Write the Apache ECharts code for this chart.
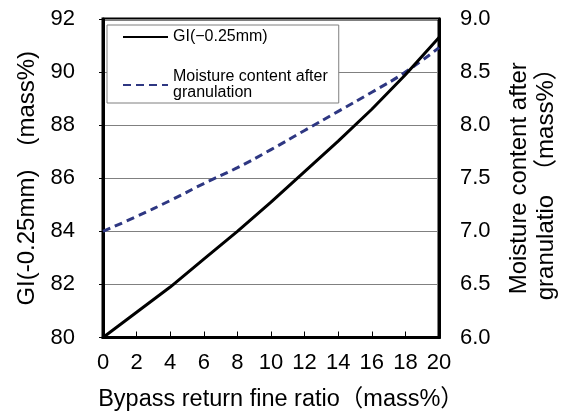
<!DOCTYPE html>
<html>
<head>
<meta charset="utf-8">
<script src="https://cdn.jsdelivr.net/npm/echarts@6/dist/echarts.min.js"></script>
<style>html,body{margin:0;padding:0;background:#fff;}#chart{width:569px;height:416px;}</style>
</head>
<body>
<div id="chart"></div>
<script>
var xCategories = [0, 2, 4, 6, 8, 10, 12, 14, 16, 18, 20];
var giValues = [80.0, 80.95, 81.9, 82.95, 84.0, 85.1, 86.25, 87.4, 88.6, 89.9, 91.3];
var moistureValues = [7.0, 7.14, 7.29, 7.45, 7.6, 7.77, 7.95, 8.13, 8.31, 8.5, 8.73];
var giName = 'GI(\u22120.25mm)';
var moistureName = 'Moisture content after\ngranulation';
var xTitle = 'Bypass return fine ratio\uff08mass%\uff09';
var leftTitle = 'GI(-0.25mm)\u3000(mass%)';
var rightTitle = 'Moisture content after\ngranulatio\u3000\uff08mass%\uff09';

var FONT = '"Liberation Sans", Arial, "Noto Sans CJK JP", sans-serif';
var chart = echarts.init(document.getElementById('chart'), null, {renderer: 'canvas'});
var option = {
  animation: false,
  backgroundColor: '#fff',
  textStyle: {fontFamily: FONT},
  grid: {left: 103, right: 130, top: 19, bottom: 76, show: true, borderColor: '#000', borderWidth: 3},
  legend: {
    left: 107, top: 25, orient: 'vertical',
    backgroundColor: '#fff', borderColor: '#7f7f7f', borderWidth: 1,
    padding: [4, 11, 2, 15], itemGap: 24,
    itemWidth: 45, itemHeight: 14,
    itemStyle: {color: 'rgba(0,0,0,0)', borderColor: 'rgba(0,0,0,0)', borderWidth: 0, opacity: 0},
    textStyle: {fontFamily: FONT, fontSize: 16, color: '#000', lineHeight: 16},
    data: [giName, moistureName]
  },
  xAxis: {
    type: 'value', min: 0, max: 20, interval: 2,
    name: xTitle, nameLocation: 'middle', nameGap: 50,
    nameTextStyle: {fontFamily: FONT, fontSize: 23.5, color: '#000', padding: [0, 0, 0, 20]},
    axisLine: {lineStyle: {color: '#000', width: 3}},
    axisTick: {inside: true, length: 6, lineStyle: {color: '#000', width: 1}},
    axisLabel: {fontFamily: FONT, fontSize: 22, color: '#000', margin: 14},
    splitLine: {show: false}
  },
  yAxis: [{
    type: 'value', min: 80, max: 92, interval: 2, position: 'left',
    name: leftTitle, nameLocation: 'middle', nameGap: 64, nameRotate: 90,
    nameTextStyle: {fontFamily: FONT, fontSize: 24, color: '#000'},
    axisLine: {show: true, lineStyle: {color: '#000', width: 3}},
    axisTick: {show: true, length: 4, lineStyle: {color: '#000', width: 1}},
    axisLabel: {fontFamily: FONT, fontSize: 22, color: '#000', margin: 28},
    splitLine: {show: true, lineStyle: {color: '#808080', width: 1}}
  }, {
    type: 'value', min: 6, max: 9, interval: 0.5, position: 'right',
    name: rightTitle, nameLocation: 'middle', nameGap: 67, nameRotate: 90,
    nameTextStyle: {fontFamily: FONT, fontSize: 24, color: '#000', lineHeight: 27},
    axisLine: {show: true, lineStyle: {color: '#000', width: 3}},
    axisTick: {show: false},
    axisLabel: {fontFamily: FONT, fontSize: 22, color: '#000', margin: 21,
      formatter: function (v) { return v.toFixed(1); }},
    splitLine: {show: false}
  }],
  series: [{
    name: giName, type: 'line', yAxisIndex: 0, symbol: 'none', smooth: false,
    data: xCategories.map(function (x, i) { return [x, giValues[i]]; }),
    lineStyle: {color: '#000', width: 3}, itemStyle: {color: '#000'}, z: 3
  }, {
    name: moistureName, type: 'line', yAxisIndex: 1, symbol: 'none', smooth: true,
    data: xCategories.map(function (x, i) { return [x, moistureValues[i]]; }),
    lineStyle: {color: '#2E3782', width: 3, type: [8, 5]}, itemStyle: {color: '#2E3782'}, z: 2
  }]
};
chart.setOption(option);
</script>
</body>
</html>
